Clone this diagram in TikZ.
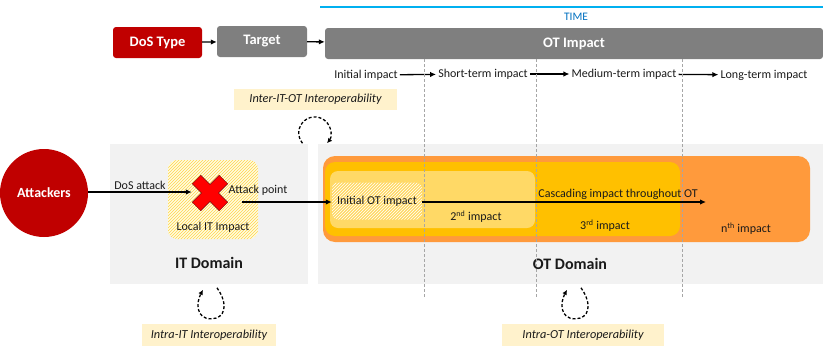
\documentclass[tikz,border=0pt]{standalone}
\usepackage{fontspec}
\setmainfont{Carlito}
\usetikzlibrary{arrows.meta,positioning,calc,patterns}
\definecolor{ink}{HTML}{1A1A1A}
\definecolor{darkred}{HTML}{C00000}
\definecolor{midgray}{HTML}{7F7F7F}
\definecolor{panel}{HTML}{F2F2F2}
\definecolor{cream}{HTML}{FFF2CC}
\definecolor{timeblue}{HTML}{00B0F0}
\definecolor{timetext}{HTML}{0070C0}
\definecolor{orangebg}{HTML}{FF9A3C}
\definecolor{amber}{HTML}{FFC000}
\definecolor{paleamber}{HTML}{FFD966}
\definecolor{gridgray}{HTML}{A6A6A6}
\tikzset{
  >=Latex,
  every node/.style={font=\fontsize{12}{14}\selectfont,text=ink,inner sep=2pt},
  stage/.style={rounded corners=3pt,fill=midgray,text=white,font=\fontsize{14.5}{17}\selectfont\bfseries,minimum height=31pt,inner sep=0pt},
  tag/.style={fill=cream,font=\fontsize{12.3}{14}\selectfont\itshape,minimum height=21pt,inner sep=0pt},
  domainbox/.style={fill=panel,inner sep=0pt},
  domaintitle/.style={font=\fontsize{16}{19}\selectfont\bfseries},
  band/.style={rounded corners=12pt,inner sep=0pt},
  hatched/.style={rounded corners=9pt,inner sep=0pt,preaction={fill=#1},pattern=north east lines},
  arrow/.style={-{Latex[length=6pt,width=5.5pt]},line width=1.3pt,draw=black},
  loopline/.style={-{Latex[length=5pt,width=5pt]},line width=1.3pt,dash pattern=on 3pt off 2pt},
  gridline/.style={gridgray,densely dashed,line width=0.6pt},
  droploop/.pic={
    \draw[loopline] (6,-31) .. controls (18,-14) and (14,0) .. (0,0)
      .. controls (-15,0) and (-15,-16) .. (-8,-29);
  }
}

\begin{document}
\begin{tikzpicture}[x=1pt,y=-1pt]
  \useasboundingbox (0,0) rectangle (823,354);

  % time axis
  \coordinate (tstart) at (320,7);
  \coordinate (tend) at (823,7);
  \draw[timeblue,line width=1.6pt] (tstart)--(tend);
  \node[text=timetext,font=\fontsize{11.5}{13}\selectfont] (time) at (576,17) {TIME};

  % top chain
  \node[stage,fill=darkred,minimum width=89pt] (dostype) at (157.5,42.5) {DoS Type};
  \node[stage,minimum width=90pt] (target) at (262,41.5) {\raisebox{2pt}{Target}};
  \node[stage,minimum width=498pt] (otimpact) at (574,43.5) {OT Impact};
  \draw[arrow] (dostype)--(target);
  \draw[arrow] (target)--(otimpact);

  % phases
  \node (initial) at (366,75) {Initial impact};
  \node (short) at (483,74) {Short-term impact};
  \node (medium) at (624,74) {Medium-term impact};
  \node (long) at (764,75) {Long-term impact};
  \draw[arrow] (initial)--(short);
  \draw[arrow] (short)--(medium);
  \draw[arrow] (medium)--(long);

  % domains
  \node[domainbox,minimum width=198pt,minimum height=140pt] (itdom) at (209,214) {};
  \node[domainbox,minimum width=505pt,minimum height=140pt] (otdom) at (570.5,214) {};
  \node[domaintitle] (itlabel) at (209,263) {IT Domain};
  \node[domaintitle] (otlabel) at (570,264) {OT Domain};

  % OT impact bands
  \node[band,fill=orangebg,minimum width=487pt,minimum height=86pt] (nthband) at (566.5,199) {};
  \node[band,fill=amber,rounded corners=10pt,minimum width=355pt,minimum height=74pt] (thirdband) at (502.5,199) {};
  \node[band,fill=paleamber,rounded corners=8pt,minimum width=205pt,minimum height=57pt] (secondband) at (432.5,199.5) {};
  \node[hatched=paleamber,rounded corners=6pt,pattern color=white,minimum width=90pt,minimum height=37pt] (initot) at (377,201) {Initial OT impact};
  \node (second) at (476,217) {2\textsuperscript{nd} impact};
  \node (third) at (605,226) {3\textsuperscript{rd} impact};
  \node (nth) at (746,229) {n\textsuperscript{th} impact};

  \foreach \gx in {424,536,682}
    \draw[gridline] (\gx,59)--(\gx,298);

  % IT side
  \node[hatched=yellow!12,pattern color=amber!70,minimum width=90pt,minimum height=79pt] (localit) at (213,199.5) {};
  \node (localtxt) at (213,227) {Local IT Impact};
  \node[circle,fill=darkred,minimum size=88pt,text=white,font=\fontsize{14}{17}\selectfont\bfseries] (attackers) at (44,193) {Attackers};
  \node[minimum size=36pt,inner sep=0pt] (hit) at (210,193) {};
  \draw[fill=red,draw=red!45!black,line width=0.5pt,shift={(hit.center)},rotate=45]
    (-6,-19)--(6,-19)--(6,-6)--(19,-6)--(19,6)--(6,6)--(6,19)--(-6,19)--(-6,6)--(-19,6)--(-19,-6)--(-6,-6)--cycle;
  \node (apoint) at (258,190) {Attack point};
  \coordinate (apstart) at (242,202);

  \draw[arrow] (attackers.east |- 0,192) -- node[above,pos=0.5] {DoS attack} (hit.west |- 0,192);
  \draw[arrow] (apstart) -- (apstart -| initot.west);
  \coordinate (cascend) at (706,202);
  \draw[arrow] (initot.east |- cascend) -- node[above,pos=0.69] {Cascading impact throughout OT} (cascend);

  % interoperability
  \node[tag,minimum width=163pt] (intertag) at (315.5,99.5) {Inter-IT-OT Interoperability};
  \node[tag,minimum width=134pt,minimum height=22pt] (intraittag) at (209,335) {Intra-IT Interoperability};
  \node[tag,minimum width=162pt,minimum height=22pt] (intraottag) at (583,335) {Intra-OT Interoperability};
  \draw[loopline] ($(intertag.south)+(-13,33)$) arc[start angle=140,end angle=400,radius=16];
  \pic at ($(intraittag.north)+(2,-5)$) {droploop};
  \pic at ($(intraottag.north)+(-8,-5)$) {droploop};
\end{tikzpicture}
\end{document}
